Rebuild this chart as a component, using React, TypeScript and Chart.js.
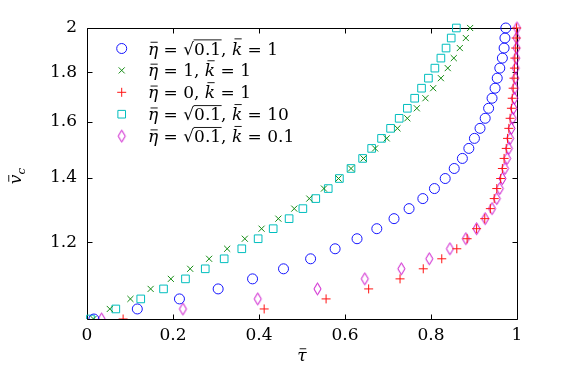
import React, { useEffect, useRef } from 'react';
import { Chart, registerables } from 'chart.js';

Chart.register(...registerables);

// v̄_c values shared by every series (rows of the scatter)
const vBar = [
  1.0, 1.0242, 1.049, 1.0743, 1.1003, 1.127, 1.1542, 1.1821, 1.2107, 1.24,
  1.27, 1.3007, 1.3322, 1.3644, 1.3974, 1.4312, 1.4659, 1.5013, 1.5376, 1.5748,
  1.6129, 1.6519, 1.6919, 1.7328, 1.7747, 1.8177, 1.8616, 1.9067, 1.9528, 2.0,
];

// τ̄ values per series
const tauSqrt01K1 = [
  0.016, 0.117, 0.215, 0.305, 0.385, 0.457, 0.52, 0.577, 0.628, 0.674,
  0.714, 0.749, 0.781, 0.808, 0.833, 0.854, 0.873, 0.888, 0.901, 0.914,
  0.926, 0.934, 0.942, 0.949, 0.954, 0.96, 0.966, 0.97, 0.972, 0.974,
];
const tau1K1 = [
  0.015, 0.053, 0.101, 0.148, 0.195, 0.24, 0.284, 0.326, 0.367, 0.406,
  0.445, 0.482, 0.517, 0.551, 0.585, 0.614, 0.643, 0.67, 0.697, 0.722,
  0.745, 0.767, 0.787, 0.805, 0.823, 0.839, 0.853, 0.867, 0.881, 0.891,
];
const tau0K1 = [
  0.084, 0.412, 0.556, 0.655, 0.728, 0.782, 0.825, 0.86, 0.884, 0.906,
  0.925, 0.938, 0.947, 0.953, 0.962, 0.966, 0.97, 0.975, 0.978, 0.981,
  0.984, 0.987, 0.989, 0.991, 0.993, 0.994, 0.995, 0.997, 0.998, 0.999,
];
const tauSqrt01K10 = [
  0.008, 0.067, 0.125, 0.178, 0.229, 0.275, 0.319, 0.36, 0.398, 0.433,
  0.47, 0.502, 0.532, 0.561, 0.587, 0.614, 0.641, 0.662, 0.685, 0.706,
  0.726, 0.745, 0.762, 0.778, 0.794, 0.809, 0.823, 0.835, 0.847, 0.859,
];
const tauSqrt01K01 = [
  0.034, 0.223, 0.397, 0.536, 0.646, 0.731, 0.796, 0.844, 0.881, 0.906,
  0.926, 0.942, 0.953, 0.96, 0.966, 0.972, 0.977, 0.981, 0.984, 0.987,
  0.99, 0.992, 0.994, 0.995, 0.996, 0.997, 0.998, 0.999, 0.999, 1.0,
];

const xTickValues = [0, 0.2, 0.4, 0.6, 0.8, 1];
const yTickValues = [1.2, 1.4, 1.6, 1.8, 2];

const seriesEta = ['√0.1', '1', '0', '√0.1', '√0.1'];
const seriesK = ['1', '1', '1', '10', '0.1'];
const seriesLabels = seriesEta.map((e, i) => `η̄ = ${e}, k̄ = ${seriesK[i]}`);
const seriesTau = [tauSqrt01K1, tau1K1, tau0K1, tauSqrt01K10, tauSqrt01K01];
const seriesColors = ['rgb(20,20,255)', 'rgb(20,140,20)', 'rgb(255,20,20)', 'rgb(0,190,190)', 'rgb(200,0,200)'];
const seriesStyles = ['circle', 'crossRot', 'cross', 'rect', 'diamond'];
const seriesRadius = [5, 4.3, 4.5, 5.4, 6];

const FONT = '"DejaVu Serif"';

function makeDiamond(color: string) {
  const c = document.createElement('canvas');
  c.width = 11;
  c.height = 15;
  const g = c.getContext('2d')!;
  g.strokeStyle = color;
  g.lineWidth = 1;
  g.beginPath();
  g.moveTo(5.5, 1.5);
  g.lineTo(9, 7.5);
  g.lineTo(5.5, 13.5);
  g.lineTo(2, 7.5);
  g.closePath();
  g.stroke();
  return c;
}

function drawMarker(ctx: CanvasRenderingContext2D, style: string, r: number, x: number, y: number, color: string, img?: HTMLCanvasElement) {
  ctx.save();
  ctx.strokeStyle = color;
  ctx.lineWidth = 1;
  ctx.beginPath();
  if (style === 'circle') {
    ctx.arc(x, y, r, 0, Math.PI * 2);
  } else if (style === 'crossRot') {
    const d = r * Math.SQRT1_2;
    ctx.moveTo(x - d, y - d); ctx.lineTo(x + d, y + d);
    ctx.moveTo(x - d, y + d); ctx.lineTo(x + d, y - d);
  } else if (style === 'cross') {
    ctx.moveTo(x - r, y); ctx.lineTo(x + r, y);
    ctx.moveTo(x, y - r); ctx.lineTo(x, y + r);
  } else if (style === 'rect') {
    const s = r * Math.SQRT1_2;
    ctx.rect(x - s, y - s, 2 * s, 2 * s);
  } else if (img) {
    ctx.drawImage(img, x - img.width / 2, y - img.height / 2);
  }
  ctx.stroke();
  ctx.restore();
}

type Seg = { t: string; it?: boolean; bar?: number; sqrt?: boolean; sub?: boolean };

function drawSegs(ctx: CanvasRenderingContext2D, segs: Seg[], x: number, y: number, size: number) {
  let cx = x;
  ctx.textBaseline = 'alphabetic';
  ctx.textAlign = 'left';
  ctx.fillStyle = '#000';
  ctx.strokeStyle = '#000';
  for (const s of segs) {
    const fs = s.sub ? size * 0.7 : size;
    const yy = s.sub ? y + size * 0.22 : y;
    if (s.sqrt) {
      ctx.font = `${fs}px ${FONT}`;
      const sw = ctx.measureText('√').width;
      ctx.fillText('√', cx, yy);
      const tw = ctx.measureText(s.t).width;
      ctx.fillText(s.t, cx + sw, yy);
      ctx.lineWidth = 0.9;
      ctx.beginPath();
      const top = yy - size * 0.86;
      ctx.moveTo(cx + sw - 0.5, top);
      ctx.lineTo(cx + sw + tw + 0.5, top);
      ctx.stroke();
      cx += sw + tw;
      continue;
    }
    ctx.font = `${s.it ? 'italic ' : ''}${fs}px ${FONT}`;
    const w = ctx.measureText(s.t).width;
    ctx.fillText(s.t, cx, yy);
    if (s.bar) {
      ctx.lineWidth = 0.9;
      ctx.beginPath();
      const by = yy - size * s.bar;
      ctx.moveTo(cx + w * 0.25, by);
      ctx.lineTo(cx + w * 0.95, by);
      ctx.stroke();
    }
    cx += w;
  }
  return cx - x;
}

function valueSegs(v: string): Seg[] {
  if (v.startsWith('√')) return [{ t: v.slice(1), sqrt: true }];
  return [{ t: v }];
}

export default function App() {
  const ref = useRef<HTMLCanvasElement>(null);

  useEffect(() => {
    const canvas = ref.current!;
    const diamond = makeDiamond(seriesColors[4]);

    const datasets = seriesTau.map((tau, i) => ({
      label: seriesLabels[i],
      data: tau.map((t, j) => ({ x: t, y: vBar[j] })),
      pointStyle: seriesStyles[i] === 'diamond' ? (diamond as any) : seriesStyles[i],
      pointRadius: seriesRadius[i],
      pointBorderWidth: 1,
      borderColor: seriesColors[i],
      pointBorderColor: seriesColors[i],
      backgroundColor: 'transparent',
      pointBackgroundColor: 'transparent',
      showLine: false,
      clip: { left: false, top: false, right: false, bottom: 0 } as any,
    }));

    const decor = {
      id: 'decor',
      beforeDatasetsDraw(chart: any) {
        const { ctx, chartArea: a } = chart;
        ctx.save();
        ctx.strokeStyle = '#000';
        ctx.lineWidth = 1;
        const L = Math.round(a.left) + 0.5, R = Math.round(a.right) + 0.5;
        const T = Math.round(a.top) + 0.5, B = Math.round(a.bottom) + 0.5;
        ctx.beginPath();
        ctx.rect(L, T, R - L, B - T);
        const tl = 5;
        const xs = chart.scales.x;
        for (const v of xTickValues) {
          const px = Math.round(xs.getPixelForValue(v)) + 0.5;
          ctx.moveTo(px, B); ctx.lineTo(px, B - tl);
          ctx.moveTo(px, T); ctx.lineTo(px, T + tl);
        }
        const ys = chart.scales.y;
        for (const v of yTickValues) {
          const py = Math.round(ys.getPixelForValue(v)) + 0.5;
          ctx.moveTo(L, py); ctx.lineTo(L + tl, py);
          ctx.moveTo(R, py); ctx.lineTo(R - tl, py);
        }
        ctx.stroke();
        ctx.restore();
      },
      afterDraw(chart: any) {
        const { ctx, chartArea: a } = chart;
        ctx.save();
        const size = 17;
        // legend
        const rowY0 = 48.5, rowDy = 21.9;
        for (let i = 0; i < seriesLabels.length; i++) {
          const cy = rowY0 + i * rowDy;
          drawMarker(ctx, seriesStyles[i], seriesRadius[i], 121.7, cy, seriesColors[i], diamond);
          const segs: Seg[] = [
            { t: 'η', it: true, bar: 0.72 },
            { t: ' = ' },
            ...valueSegs(seriesEta[i]),
            { t: ', ' },
            { t: 'k', it: true, bar: 0.92 },
            { t: ' = ' },
            ...valueSegs(seriesK[i]),
          ];
          drawSegs(ctx, segs, 148, cy + 6, size);
        }
        // x-axis title
        const xc = (a.left + a.right) / 2;
        ctx.font = `italic ${size}px ${FONT}`;
        const tw = ctx.measureText('τ').width;
        drawSegs(ctx, [{ t: 'τ', it: true, bar: 0.72 }], xc - tw / 2, 361, size);
        // y-axis title
        ctx.save();
        ctx.translate(21, 176);
        ctx.rotate(-Math.PI / 2);
        ctx.font = `italic ${size}px ${FONT}`;
        const vw = ctx.measureText('v').width;
        ctx.font = `italic ${size * 0.7}px ${FONT}`;
        const cw = ctx.measureText('c').width;
        drawSegs(ctx, [{ t: 'v', it: true, bar: 0.72 }, { t: 'c', it: true, sub: true }], -(vw + cw) / 2, 0, size);
        ctx.restore();
        ctx.restore();
      },
    };

    const chart = new Chart(canvas, {
      type: 'scatter',
      data: { datasets: datasets as any },
      options: {
        animation: false,
        responsive: false,
        maintainAspectRatio: false,
        events: [],
        layout: { padding: { top: 28, right: 55, left: 0, bottom: 0 }, autoPadding: false } as any,
        plugins: { legend: { display: false }, tooltip: { enabled: false }, title: { display: false } },
        scales: {
          x: {
            type: 'linear',
            min: 0,
            max: 1,
            grid: { display: false, drawTicks: false },
            border: { display: false },
            afterFit: (s: any) => { s.height = 51; },
            afterBuildTicks: (s: any) => { s.ticks = xTickValues.map((v) => ({ value: v })); },
            ticks: {
              padding: 6,
              color: '#000',
              font: { family: 'DejaVu Serif', size: 17 },
              maxRotation: 0,
              callback: (v: any) => String(Math.round(Number(v) * 10) / 10),
            },
          },
          y: {
            type: 'logarithmic',
            min: 1,
            max: 2,
            grid: { display: false, drawTicks: false },
            border: { display: false },
            afterFit: (s: any) => { s.width = 87; },
            afterBuildTicks: (s: any) => { s.ticks = yTickValues.map((v) => ({ value: v })); },
            ticks: {
              padding: 10,
              color: '#000',
              font: { family: 'DejaVu Serif', size: 17 },
              callback: (v: any) => String(Math.round(Number(v) * 10) / 10),
            },
          },
        },
      },
      plugins: [decor],
    } as any);

    return () => chart.destroy();
  }, []);

  return (
    <div style={{ position: 'fixed', left: 0, top: 0, width: 572, height: 370, background: '#fff' }}>
      <canvas ref={ref} width={572} height={370} style={{ width: 572, height: 370, display: 'block' }} />
    </div>
  );
}
